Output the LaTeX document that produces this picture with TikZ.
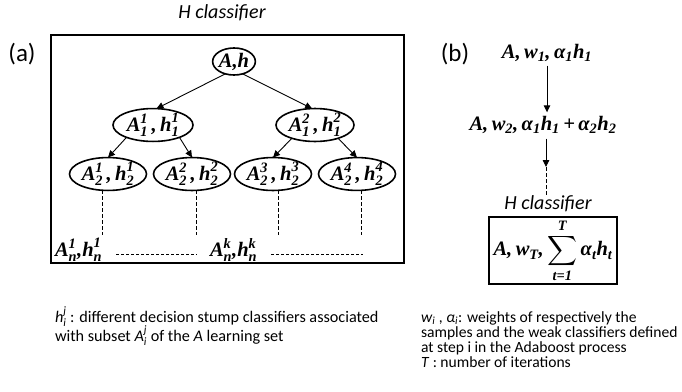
\documentclass[tikz,border=0pt]{standalone}
\usepackage{amsmath}
\usepackage{fontspec}
\setmainfont{Carlito}
\newfontfamily\tnr{Liberation Serif}
\usetikzlibrary{shapes.geometric,arrows.meta}
% bold italic serif symbols inside math
\newcommand\bi[1]{\text{\tnr\bfseries\itshape #1}}
\newcommand\Sym[3]{\bi{#1}^{\bi{#2}}_{\bi{#3}}}
% subset / classifier pair A^a_b, h^a_b
\newcommand\Pair[2]{$\Sym{A}{#1}{#2}\,\bi{,}\,\Sym{h}{#1}{#2}$}
\tikzset{
  every node/.style={inner sep=0pt, outer sep=0pt},
  ell/.style={ellipse, draw, line width=1.6pt, minimum height=25pt},
  lvl/.style={ell, mth, minimum width=77pt, minimum height=28pt},
  frame/.style={draw, line width=1.5pt},
  arr/.style={line width=0.9pt, -{Triangle[length=7pt,width=6.5pt]}},
  dsh/.style={line width=0.9pt, dash pattern=on 4pt off 2pt},
  mth/.style={font=\fontsize{20.5}{22}\selectfont},
  lbl/.style={font=\fontsize{16.2}{15}\selectfont, anchor=west, text height=11pt, text depth=3pt},
  rlbl/.style={lbl, font=\fontsize{15.6}{15}\selectfont},
  title/.style={font=\fontsize{20}{22}\selectfont\itshape},
}
\begin{document}
\begin{tikzpicture}[x=1pt,y=-1pt]
\useasboundingbox (0,0) rectangle (682,391);

% ---- (a) tree of stump classifiers ----
\node[title] (hca) at (222,13) {H classifier};
\node[font=\fontsize{25}{27}\selectfont] (pa) at (22,54) {(a)};
\node[frame, minimum width=353pt, minimum height=228pt] (box) at (227.5,149) {};

\node[ell, mth, minimum width=42pt, minimum height=27pt] (root) at (234,61.5) {$\bi{A,h}$};
\node[ell, mth, minimum width=80pt] (l1a) at (153,125) {\Pair{1}{1}};
\node[ell, mth, minimum width=78pt] (l1b) at (315,125) {\Pair{2}{1}};

\node[lvl] (l2a) at (108,174) {\Pair{1}{2}};
\node[lvl] (l2b) at (192,174) {\Pair{2}{2}};
\node[lvl] (l2c) at (273,174) {\Pair{3}{2}};
\node[lvl] (l2d) at (357,174) {\Pair{4}{2}};

\draw[arr] (root.235) -- (l1a.78);
\draw[arr] (root.305) -- (l1b.100);
\draw[arr] (l1a.205) -- (l2a.north);
\draw[arr] (l1a.335) -- (l2b.north);
\draw[arr] (l1b.210) -- (l2c.north);
\draw[arr] (l1b.330) -- (l2d.north);

\coordinate (da) at (102,235);
\coordinate (db) at (196,235);
\coordinate (dc) at (278,235);
\coordinate (dd) at (361,235);
\draw[dsh] (l2a.south -| da) -- (da);
\draw[dsh] (l2b.south -| db) -- (db);
\draw[dsh] (l2c.south -| dc) -- (dc);
\draw[dsh] (l2d.south -| dd) -- (dd);

\node[mth, anchor=west] (na) at (55,250) {$\Sym{A}{1}{n}\bi{,}\Sym{h}{1}{n}$};
\node[mth, anchor=west] (nk) at (210,250) {$\Sym{A}{k}{n}\bi{,}\Sym{h}{k}{n}$};
\coordinate (ne) at (363,254);
\draw[line width=0.9pt, dash pattern=on 3pt off 2pt] (na.east |- ne) ++(14,0) -- ([xshift=-13pt]nk.west |- ne);
\draw[line width=0.9pt, dash pattern=on 3pt off 2pt] (nk.east |- ne) ++(14,0) -- (ne);

% ---- (b) Adaboost sequence ----
\node[font=\fontsize{25}{27}\selectfont] (pb) at (455,54) {(b)};
\node[mth] (b1) at (547,53) {$\bi{A,}\,\bi{w}_{\bi{1}}\bi{,}\,\bi{α}_{\bi{1}}\bi{h}_{\bi{1}}$};
\node[mth] (b2) at (543,125) {$\bi{A,}\,\bi{w}_{\bi{2}}\bi{,}\,\bi{α}_{\bi{1}}\bi{h}_{\bi{1}}\bi{\,+\,}\bi{α}_{\bi{2}}\bi{h}_{\bi{2}}$};
\coordinate (ax) at (547,0);
\draw[arr, shorten <=4pt, shorten >=4pt] (b1.south -| ax) -- (b2.north -| ax);

\node[title] (hcb) at (548,204) {H classifier};
\coordinate (mid) at (546,167);
\draw[arr, shorten <=5pt] (b2.south -| mid) -- (mid);
\draw[dsh] (mid) -- (hcb.north -| mid);

\node[frame, minimum width=128pt, minimum height=67pt] (fin) at (553,250.5) {};
\node[mth] (sum) at (fin.center)
  {$\bi{A,}\,\bi{w}_{\bi{T}}\bi{,}\displaystyle\sum_{\bi{t=1}}^{\bi{T}}\bi{α}_{\bi{t}}\bi{h}_{\bi{t}}$};

% ---- legends ----
\node[lbl] (la1) at (55,318) {\textit{h}$^{\textit{j}}_{\textit{i}}$ : different decision stump classifiers associated};
\node[lbl] (la2) at (55,337) {with subset \textit{A}$^{\textit{j}}_{\textit{i}}$ of the \textit{A} learning set};

\node[rlbl] (lb1) at (421,318) {\textit{w}$_{\textit{i}}$ , \textit{α}$_{\textit{i}}$: weights of respectively the};
\node[rlbl] (lb2) at (421,333) {samples and the weak classifiers defined};
\node[rlbl] (lb3) at (421,348) {at step i in the Adaboost process};
\node[rlbl] (lb4) at (421,363) {\textit{T} : number of iterations};
\end{tikzpicture}
\end{document}
